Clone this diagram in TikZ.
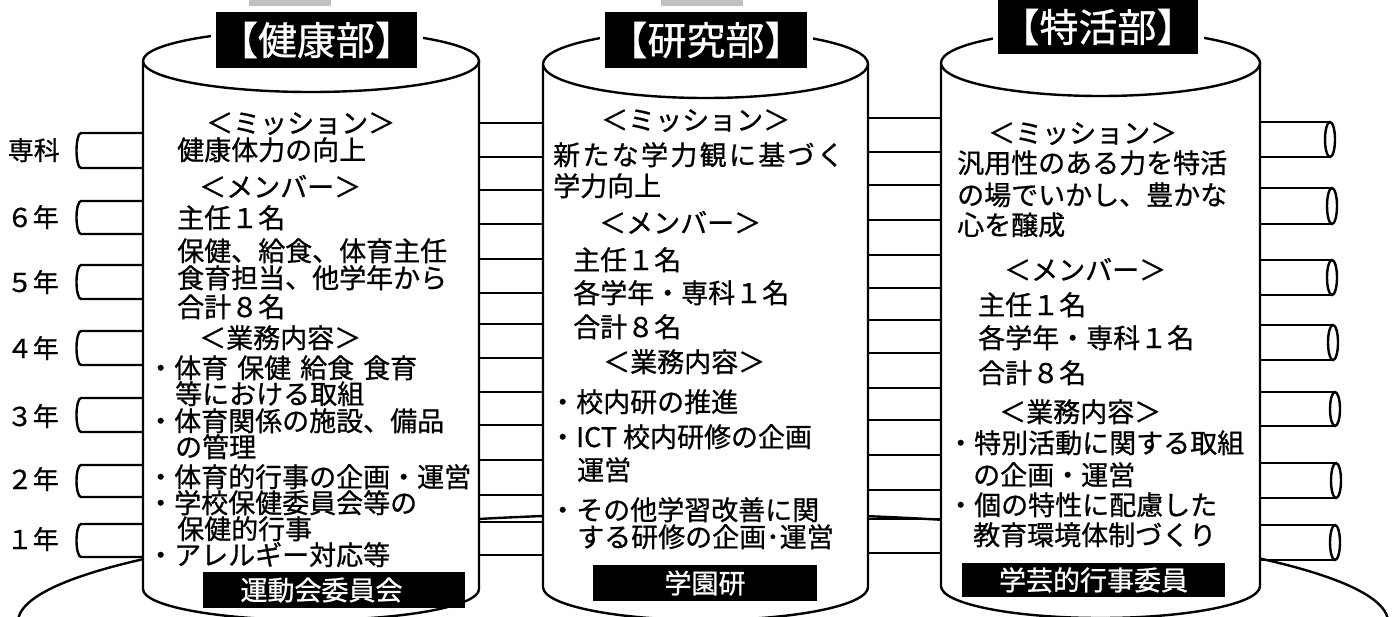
\documentclass[tikz,border=0pt]{standalone}
\usepackage{fontspec}
\newfontfamily\jp[FakeBold=0.8]{Noto Sans CJK JP}
\definecolor{grayc}{HTML}{C0C0C0}
\newcommand\spreadtxt[1]{#1}
\begin{document}
\begin{tikzpicture}[x=1pt,y=-1pt, line width=2.4pt,
  txt/.style={font=\jp\fontsize{27}{27}\selectfont, anchor=west, inner sep=0pt, text height=23.5pt, text depth=3.5pt},
  lbl/.style={font=\jp\fontsize{26}{26}\selectfont, anchor=east, inner sep=0pt, text height=23pt, text depth=3pt},
  titlebox/.style={fill=black, text=white, font=\jp\fontsize{39}{39}\selectfont, inner sep=0pt, preaction={draw=white, line width=11pt}},
  blackbox/.style={fill=black, text=white, font=\jp\fontsize{27}{27}\selectfont, inner sep=0pt, minimum height=36pt},
]
\useasboundingbox (0,0) rectangle (1397,616);
\clip (0,0) rectangle (1397,616);
% platform
\draw (703,622) ellipse [x radius=685, y radius=109];
% gray tabs
\fill[grayc] (249,0) rectangle (331,6);
\fill[grayc] (661,0) rectangle (743,6);
% left tubes
\foreach \t/\b in {133/168, 201/234, 265/299, 331/365, 398/432, 465/497, 524/557}
  \draw (143,\t) -- (81,\t) arc[start angle=270, end angle=90, x radius=4.5, y radius={(\b-\t)/2}] -- (143,\b);
% tubes between left and middle
\foreach \t/\b in {123/157, 190/224, 259/293, 324/358, 392/425, 460/495, 522/555}
  {\draw (479,\t) -- (543,\t); \draw (479,\b) -- (543,\b);}
% tubes between middle and right
\foreach \t/\b in {118/152, 185/220, 255/288, 320/353, 388/420, 455/490, 519/553}
  {\draw (868,\t) -- (941,\t); \draw (868,\b) -- (941,\b);}
% right tubes
\foreach \t/\b/\e in {122/157/1330, 188/224/1332, 260/295/1332, 325/360/1333, 392/426/1335, 463/498/1336, 525/560/1335}
  {\draw (1260,\t) -- (\e,\t); \draw (1260,\b) -- (\e,\b);
   \draw (\e,{(\t+\b)/2}) ellipse [x radius=5, y radius={(\b-\t)/2}];}
% cylinders
\fill[white] (143,61) -- (143,589) arc[start angle=180,end angle=0,x radius=168,y radius=31] -- (479,61) -- cycle;
\draw (143,61) -- (143,589) arc[start angle=180,end angle=0,x radius=168,y radius=31] -- (479,61);
\filldraw[fill=white] (311,61) ellipse [x radius=168, y radius=31];
\fill[white] (543,64) -- (543,587) arc[start angle=180,end angle=0,x radius=162.5,y radius=33] -- (868,64) -- cycle;
\draw (543,64) -- (543,587) arc[start angle=180,end angle=0,x radius=162.5,y radius=33] -- (868,64);
\filldraw[fill=white] (705.5,64) ellipse [x radius=162.5, y radius=34];
\fill[white] (941,63) -- (941,586) arc[start angle=180,end angle=0,x radius=159.5,y radius=32] -- (1260,63) -- cycle;
\draw (941,63) -- (941,586) arc[start angle=180,end angle=0,x radius=159.5,y radius=32] -- (1260,63);
\filldraw[fill=white] (1100.5,63) ellipse [x radius=159.5, y radius=33];
% titles
\node[titlebox, minimum width=201pt, minimum height=56pt] (t1) at (316.5,40) {【健康部】};
\node[titlebox, minimum width=202pt, minimum height=56pt] (t2) at (706,40) {【研究部】};
\node[titlebox, minimum width=200pt, minimum height=54pt] (t3) at (1098,27) {【特活部】};
% bottom boxes
\node[blackbox, minimum width=262pt] (b1) at (334,590) {\hspace*{-25pt}運動会委員会};
\node[blackbox, minimum width=224pt] (b2) at (705,583) {学園研};
\node[blackbox, minimum width=263pt, minimum height=34pt] (b3) at (1093.5,580) {学芸的行事委員};
% left labels
\node[lbl] (l0) at (61,150) {専科};
\node[lbl] (l6) at (60,217) {６年};
\node[lbl] (l5) at (60,282) {５年};
\node[lbl] (l4) at (60,348) {４年};
\node[lbl] (l3) at (60,416) {３年};
\node[lbl] (l2) at (60,479) {２年};
\node[lbl] (l1) at (60,539) {１年};
% left column
\node[txt] (a1) at (205,123) {＜ミッション＞};
\node[txt] (a2) at (176,150) {健康体力の向上};
\node[txt] (a3) at (198,187) {＜メンバー＞};
\node[txt] (a4) at (176,218) {主任１名};
\node[txt] (a5) at (176,251) {保健、給食、体育主任};
\node[txt] (a6) at (176,278) {食育担当、他学年から};
\node[txt] (a7) at (176,307) {合計８名};
\node[txt] (a8) at (198,338) {＜業務内容＞};
\node[txt] (a9) at (146,368) {・体育\hspace{9pt}保健\hspace{9pt}給食\hspace{9pt}食育};
\node[txt] (a10) at (174,394) {等における取組};
\node[txt] (a11) at (146,421) {・体育関係の施設、備品};
\node[txt] (a12) at (174,447) {の管理};
\node[txt] (a13) at (146,477) {・体育的行事の企画・運営};
\node[txt] (a14) at (146,503) {・学校保健委員会等の};
\node[txt] (a15) at (176,529) {保健的行事};
\node[txt] (a16) at (146,555) {・アレルギー対応等};
% middle column
\node[txt] (m1) at (600,120) {＜ミッション＞};
\node[txt] (m2) at (552,155) {新\kern2.3pt た\kern2.3pt な\kern2.3pt 学\kern2.3pt 力\kern2.3pt 観\kern2.3pt に\kern2.3pt 基\kern2.3pt づ\kern2.3pt く};
\node[txt] (m3) at (552,186) {学力向上};
\node[txt] (m4) at (598,223) {＜メンバー＞};
\node[txt] (m5) at (572,260) {主任１名};
\node[txt] (m6) at (572,293) {各学年・専科１名};
\node[txt] (m7) at (572,327) {合計８名};
\node[txt] (m8) at (602,362) {＜業務内容＞};
\node[txt] (m9) at (548,402) {・校内研の推進};
\node[txt] (m10) at (548,437) {・ICT 校内研修の企画};
\node[txt] (m11) at (576,470) {運営};
\node[txt] (m12) at (548,510) {・その他学習改善に関};
\node[txt] (m13) at (576,537) {する研修の企画･運営};
% right column
\node[txt] (r1) at (987,133) {＜ミッション＞};
\node[txt] (r2) at (956,163) {汎用性のある力を特活};
\node[txt] (r3) at (956,195) {の場でいかし、豊かな};
\node[txt] (r4) at (956,225) {心を醸成};
\node[txt] (r5) at (1003,270) {＜メンバー＞};
\node[txt] (r6) at (977,305) {主任１名};
\node[txt] (r7) at (977,338) {各学年・専科１名};
\node[txt] (r8) at (977,373) {合計８名};
\node[txt] (r9) at (998,412) {＜業務内容＞};
\node[txt] (r10) at (946,443) {・特別活動に関する取組};
\node[txt] (r11) at (972,475) {の企画・運営};
\node[txt] (r12) at (946,505) {・個の特性に配慮した};
\node[txt] (r13) at (972,535) {教育環境体制づくり};
\end{tikzpicture}
\end{document}
